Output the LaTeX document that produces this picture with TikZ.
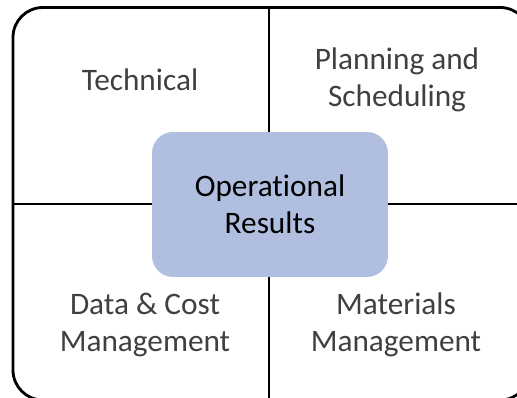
\documentclass[tikz,border=0pt]{standalone}
\usepackage{fontspec}
\setmainfont[Ligatures=NoCommon]{Carlito}
\usetikzlibrary{positioning}
\definecolor{resultblue}{HTML}{B0BEE0}
\definecolor{areagray}{HTML}{404040}

\begin{document}
\begin{tikzpicture}[x=0.02cm, y=-0.02cm,
    area/.style={text=areagray, align=center, font=\fontsize{17.8}{20.8}\selectfont},
    frame/.style={line width=1.6pt}]
    \useasboundingbox (0,0) rectangle (517,398);
    \clip (0,0) rectangle (517,398);
    % outer frame and the two dividers
    \draw[frame, rounded corners=17pt] (13,7.5) rectangle (530,400);
    \coordinate (top) at (269,7.5);
    \coordinate (bottom) at (269,400);
    \coordinate (left) at (13,204);
    \coordinate (right) at (530,204);
    \draw[frame] (top) -- (bottom);
    \draw[frame] (left) -- (right);
    % centre box
    \node[fill=resultblue, rounded corners=12pt, minimum width=4.72cm, minimum height=2.9cm,
        align=center, font=\fontsize{17.8}{20.8}\selectfont] (results) at (270,204.5) {Operational\\Results};
    % the four areas
    \node[area] (technical) at (140,80) {Technical};
    \node[area] (planning) at (397,80) {Planning and\\Scheduling};
    \node[area] (datacost) at (145,325) {Data \& Cost\\Management};
    \node[area] (materials) at (396,325) {Materials\\Management};
\end{tikzpicture}
\end{document}
